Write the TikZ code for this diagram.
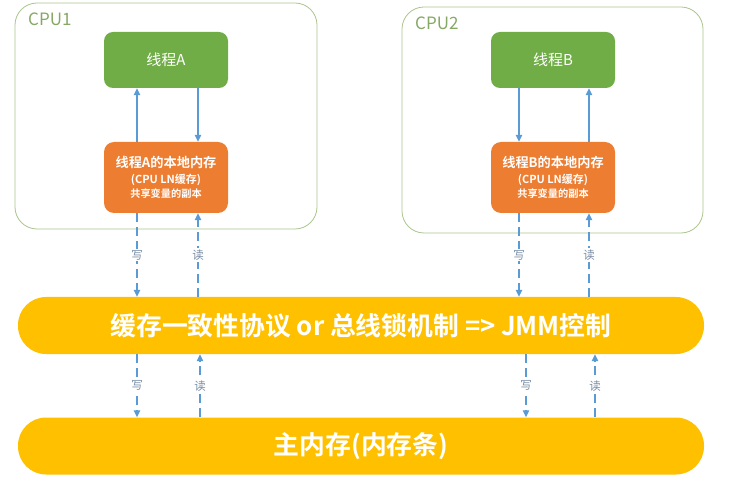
\documentclass[tikz,border=0pt]{standalone}
\usepackage{fontspec}
\setmainfont{Noto Sans CJK SC}[BoldFont={Noto Sans CJK SC Bold}]
\usetikzlibrary{arrows.meta,calc}
\definecolor{cpuline}{HTML}{A9C48C}
\definecolor{cputext}{HTML}{86A865}
\definecolor{thgreen}{HTML}{70AD47}
\definecolor{memorange}{HTML}{ED7D31}
\definecolor{busgold}{HTML}{FFC000}
\definecolor{arrblue}{HTML}{5B9BD5}
\definecolor{lbl}{HTML}{7A8EA5}
\tikzset{
  cpubox/.style={draw=cpuline, line width=0.8pt, rounded corners=22pt},
  cpulabel/.style={text=cputext, font=\fontsize{17}{19}\selectfont, anchor=west, inner sep=0pt},
  thread/.style={fill=thgreen, rounded corners=9pt, minimum width=124pt, minimum height=56pt, text=white, font=\fontsize{15}{17}\selectfont, inner sep=0pt},
  localmem/.style={fill=memorange, rounded corners=10pt, minimum width=124pt, minimum height=71pt, text=white, align=center, inner sep=0pt},
  bus/.style={fill=busgold, rounded corners=28pt, minimum width=686pt, minimum height=57pt, text=white, font=\bfseries\fontsize{25.8}{28}\selectfont, inner sep=0pt},
  solidarrow/.style={draw=arrblue, line width=1.2pt, -{Triangle[width=6.5pt,length=7pt]}},
  dasharrow/.style={draw=arrblue, line width=1.2pt, dash pattern=on 9pt off 5pt, -{Triangle[width=6.5pt,length=7pt]}},
  rwlabel/.style={fill=white, text=lbl, font=\fontsize{11.5}{13}\selectfont, inner sep=1.5pt}
}
\begin{document}
\begin{tikzpicture}[x=1pt,y=-1pt]
\useasboundingbox (0,0) rectangle (731,486);
% CPU frames
\draw[cpubox] (15,3) rectangle (317,229);
\draw[cpubox] (402,7) rectangle (703,233);
\node[cpulabel] (cpu1) at (28,19) {CPU1};
\node[cpulabel] (cpu2) at (415,23) {CPU2};
% threads
\node[thread] (ta) at (166,60) {线程A};
\node[thread] (tb) at (553,60) {线程B};
% local memories
\node[localmem] (la) at (166,177.5) {{\bfseries\fontsize{13.2}{16}\selectfont 线程A的本地内存}\\[4pt]{\bfseries\fontsize{11}{18}\selectfont (CPU LN缓存)}\\[2pt]{\bfseries\fontsize{10.2}{15}\selectfont 共享变量的副本}};
\node[localmem] (lb) at (553,177.5) {{\bfseries\fontsize{13.2}{16}\selectfont 线程B的本地内存}\\[4pt]{\bfseries\fontsize{11}{18}\selectfont (CPU LN缓存)}\\[2pt]{\bfseries\fontsize{10.2}{15}\selectfont 共享变量的副本}};
% buses
\node[bus] (bus) at (361,325.5) {缓存一致性协议 or 总线锁机制 => JMM控制};
\node[bus] (mem) at (361,446) {主内存(内存条)};
% column coordinates
\coordinate (a1) at (137,0);
\coordinate (a2) at (198,0);
\coordinate (b1) at (519,0);
\coordinate (b2) at (589,0);
\coordinate (a3) at (137,0);
\coordinate (a4) at (200,0);
\coordinate (b3) at (526,0);
\coordinate (b4) at (595,0);
% thread <-> local memory
\draw[solidarrow] (la.north -| a1) -- (ta.south -| a1);
\draw[solidarrow] (ta.south -| a2) -- (la.north -| a2);
\draw[solidarrow] (tb.south -| b1) -- (lb.north -| b1);
\draw[solidarrow] (lb.north -| b2) -- (tb.south -| b2);
% local memory <-> bus
\draw[dasharrow] (la.south -| a1) -- node[rwlabel] (wa1) {写} (bus.north -| a1);
\draw[dasharrow] (bus.north -| a2) -- node[rwlabel] (ra1) {读} (la.south -| a2);
\draw[dasharrow] (lb.south -| b1) -- node[rwlabel] (wb1) {写} (bus.north -| b1);
\draw[dasharrow] (bus.north -| b2) -- node[rwlabel] (rb1) {读} (lb.south -| b2);
% bus <-> main memory
\draw[dasharrow] (bus.south -| a3) -- node[rwlabel] (wa2) {写} (mem.north -| a3);
\draw[dasharrow] (mem.north -| a4) -- node[rwlabel] (ra2) {读} (bus.south -| a4);
\draw[dasharrow] (bus.south -| b3) -- node[rwlabel] (wb2) {写} (mem.north -| b3);
\draw[dasharrow] (mem.north -| b4) -- node[rwlabel] (rb2) {读} (bus.south -| b4);
\end{tikzpicture}
\end{document}
